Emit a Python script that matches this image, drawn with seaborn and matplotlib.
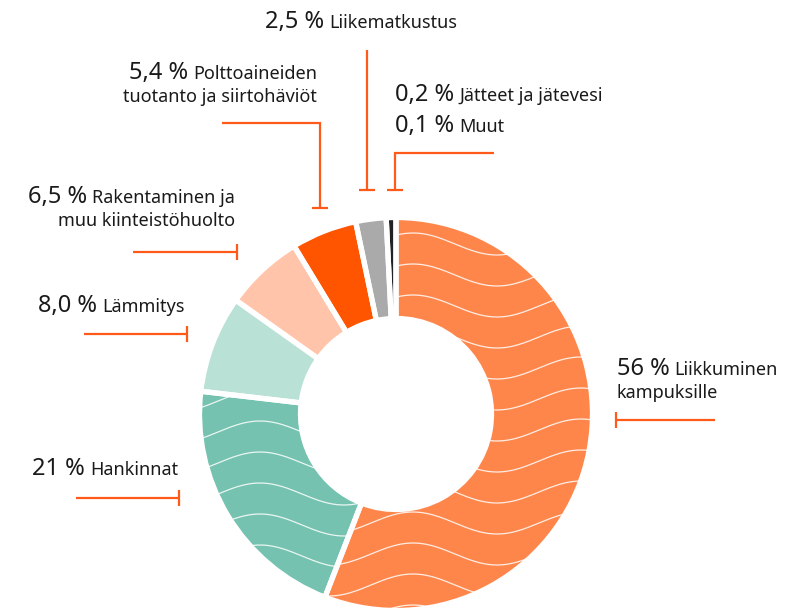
import numpy as np
import matplotlib
matplotlib.use("Agg")
import matplotlib.pyplot as plt
import seaborn as sns

# data: share of the carbon footprint, clockwise from 12 o'clock
shares = [56, 21, 8.0, 6.5, 5.4, 2.5, 0.2, 0.1]
pct_labels = ["56 %", "21 %", "8,0 %", "6,5 %", "5,4 %", "2,5 %", "0,2 %", "0,1 %"]
name_lines = [["Liikkuminen", "kampuksille"],
              ["Hankinnat"],
              ["Lämmitys"],
              ["Rakentaminen ja", "muu kiinteistöhuolto"],
              ["Polttoaineiden", "tuotanto ja siirtohäviöt"],
              ["Liikematkustus"],
              ["Jätteet ja jätevesi"],
              ["Muut"]]
colors = ["#ff864b", "#74c2af", "#b9e1d6", "#ffc4a9", "#ff5500", "#aaaaab", "#222222"]

W, H = 796, 608
sns.set_theme(style="white")
plt.rcParams["font.family"] = ["Noto Sans", "DejaVu Sans"]

fig = plt.figure(figsize=(W / 100, H / 100), dpi=100)
ax = fig.add_axes([0, 0, 1, 1])

def Y(y):
    # image rows -> data y
    return H - y

cx, cy = 396, Y(414)
gap = 3.8  # white separator, points

# the two smallest shares are drawn together as one dark sliver
min_share = 0.8
drawn = shares[:6] + [max(shares[6] + shares[7], min_share)]

wedges, _ = ax.pie(drawn, colors=colors, startangle=90, counterclock=False,
                   center=(cx, cy), radius=196.5,
                   wedgeprops=dict(width=101, linewidth=0, zorder=1))

# wavy white texture on the two biggest slices
xs = np.linspace(150, 650, 600)
for w, (y0, xpeak) in zip(wedges[:2], [(306, 413), (463, 260)]):
    for k in range(-12, 14):
        ys = Y(y0 + 31 * k) + 11 * np.cos(2 * np.pi * (xs - xpeak) / 168)
        ln, = ax.plot(xs, ys, color="white", lw=0.9, alpha=0.85, zorder=2)
        ln.set_clip_path(w)

# white gaps between slices
ax.pie(drawn, startangle=90, counterclock=False, center=(cx, cy), radius=196.5,
       wedgeprops=dict(width=101, fill=False, edgecolor="white",
                       linewidth=gap, zorder=3))

ax.set_xlim(0, W)
ax.set_ylim(0, H)
ax.set_aspect("equal")
ax.axis("off")

txt = "#1a1a1a"
renderer = fig.canvas.get_renderer()

def width_of(t):
    bb = t.get_window_extent(renderer=renderer)
    return bb.width

def callout(i, x, y, ha, lead=23):
    pct = pct_labels[i]
    lines = name_lines[i]
    if ha == "left":
        p = ax.text(x, Y(y), pct, ha="left", va="baseline", fontsize=17, color=txt)
        ax.text(x + width_of(p) + 5, Y(y), lines[0], ha="left", va="baseline",
                fontsize=13, color=txt)
    else:
        n = ax.text(x, Y(y), lines[0], ha="right", va="baseline", fontsize=13, color=txt)
        ax.text(x - width_of(n) - 5, Y(y), pct, ha="right", va="baseline",
                fontsize=17, color=txt)
    for j, extra in enumerate(lines[1:], start=1):
        ax.text(x, Y(y + lead * j), extra, ha=ha, va="baseline", fontsize=13, color=txt)

callout(0, 617, 375, "left")
callout(1, 178, 475, "right")
callout(2, 185, 312, "right")
callout(3, 235, 203, "right")
callout(4, 317, 79, "right")
callout(5, 265, 28, "left")
callout(6, 395, 101, "left")
callout(7, 395, 132, "left")

lc = "#ff5a1a"
def seg(pts):
    ax.plot([p[0] for p in pts], [Y(p[1]) for p in pts], color=lc, lw=1.6,
            solid_capstyle="butt", solid_joinstyle="miter", zorder=4)

# leader lines with a short stop bar at the donut end
seg([(715, 420), (616, 420)]); seg([(616, 412), (616, 428)])
seg([(76, 498), (179, 498)]); seg([(179, 490), (179, 506)])
seg([(84, 334), (187, 334)]); seg([(187, 326), (187, 342)])
seg([(133, 252), (237, 252)]); seg([(237, 244), (237, 260)])
seg([(222, 123), (320, 123), (320, 208)]); seg([(312, 208), (328, 208)])
seg([(367, 50), (367, 190)]); seg([(359, 190), (375, 190)])
seg([(494, 153), (395, 153), (395, 190)]); seg([(387, 190), (403, 190)])

fig.savefig("out.png", dpi=100)
